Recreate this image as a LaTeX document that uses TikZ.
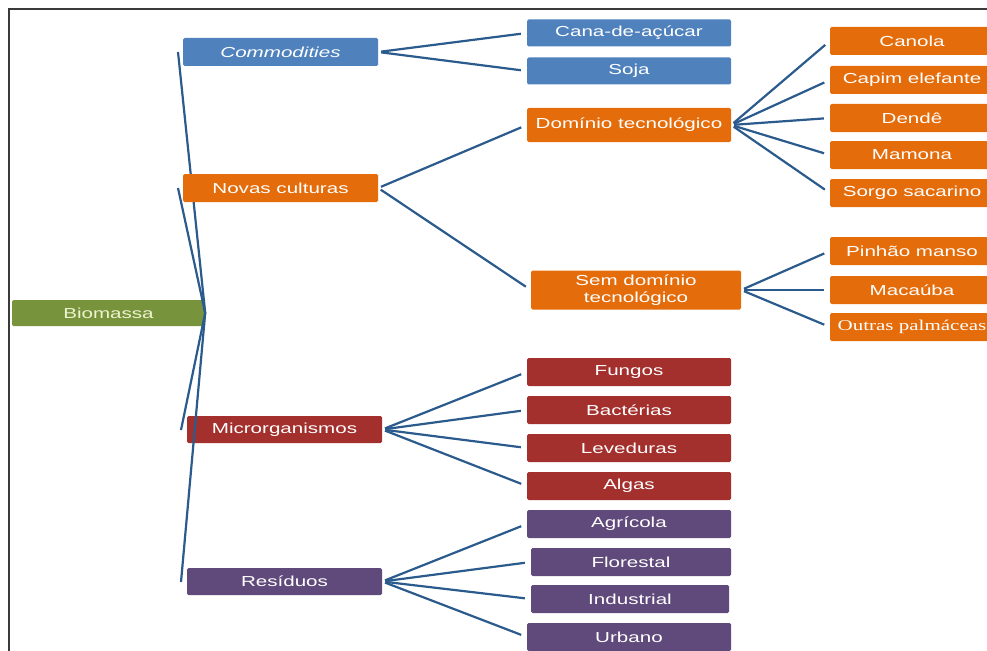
\documentclass[tikz,border=0pt]{standalone}
\usepackage{fontspec}
\setmainfont{Liberation Sans}[FakeStretch=1.42]
\newfontfamily\palmfont{Liberation Serif}[FakeStretch=1.4]
\usetikzlibrary{positioning}
\usetikzlibrary{calc}

\definecolor{bioGreen}{HTML}{77933C}
\definecolor{bioText}{HTML}{EEF3CF}
\definecolor{comBlue}{HTML}{4F81BD}
\definecolor{novOrange}{HTML}{E46C0A}
\definecolor{micRed}{HTML}{A3302D}
\definecolor{resPurple}{HTML}{604A7B}
\definecolor{linkBlue}{HTML}{2B5A8C}
\definecolor{frameGray}{HTML}{3A3A3A}

\begin{document}
\begin{tikzpicture}[x=1pt,y=-1pt,
		box/.style={rounded corners=1.5pt,text=white,inner sep=0pt,align=center,
			font=\fontsize{14.5}{17}\selectfont},
		lvlone/.style={box,minimum width=195pt,minimum height=28pt},
		lvltwo/.style={box,minimum width=204pt,minimum height=28pt},
		lvlthree/.style={box,fill=novOrange,minimum width=164pt,minimum height=28pt},
		link/.style={draw=linkBlue,line width=2.2pt},
		sublink/.style={link,shorten <=3pt,shorten >=6pt}]
			\useasboundingbox (0,0) rectangle (987,650);
			\clip (0,0) rectangle (987,650);
			
			% Frame of the figure
			\draw[frameGray,line width=2pt] (9,651) -- (9,9) -- (988,9);
			
			% Root
			\node[box,fill=bioGreen,text=bioText,minimum width=193pt,minimum height=26pt]
				(bio) at (108.5,313) {Biomassa};
			
			% Ends of the root connectors, just left of each branch
			\coordinate (comin) at (178,52);
			\coordinate (novin) at (178,188);
			\coordinate (micin) at (181,430);
			\coordinate (resin) at (181,582);
			
			% Branches (each connector before its box)
			\draw[link] (bio.east) -- (comin);
			\node[lvlone,fill=comBlue] (com) at (280.5,52) {\itshape Commodities};
			\draw[link] (bio.east) -- (novin);
			\node[lvlone,fill=novOrange] (nov) at (280.5,188) {Novas culturas};
			\draw[link] (bio.east) -- (micin);
			\node[lvlone,fill=micRed,minimum height=27pt] (mic) at (284.5,429.5) {Microrganismos};
			\draw[link] (bio.east) -- (resin);
			\node[lvlone,fill=resPurple,minimum height=27pt] (res) at (284.5,581.5) {Resíduos};
			
			% Second level
			\node[lvltwo,fill=comBlue,minimum height=27pt] (cana) at (629,33) {Cana-de-açúcar};
			\node[lvltwo,fill=comBlue,minimum height=27pt] (soja) at (629,71) {Soja};
			\node[lvltwo,fill=novOrange,minimum height=34pt] (dom) at (629,125) {Domínio tecnológico};
			\node[lvltwo,fill=novOrange,minimum width=210pt,minimum height=39pt]
				(semdom) at (636,290) {Sem domínio\\tecnológico};
			\node[lvltwo,fill=micRed] (fungos) at (629,372) {Fungos};
			\node[lvltwo,fill=micRed] (bacterias) at (629,410) {Bactérias};
			\node[lvltwo,fill=micRed] (leveduras) at (629,448) {Leveduras};
			\node[lvltwo,fill=micRed] (algas) at (629,486) {Algas};
			\node[lvltwo,fill=resPurple] (agricola) at (629,524) {Agrícola};
			\node[lvltwo,fill=resPurple,minimum width=200pt] (florestal) at (631,562) {Florestal};
			\node[lvltwo,fill=resPurple,minimum width=198pt] (industrial) at (630,599) {Industrial};
			\node[lvltwo,fill=resPurple] (urbano) at (629,637) {Urbano};
			
			% Third level
			\node[lvlthree] (canola) at (912,41) {Canola};
			\node[lvlthree] (capim) at (912,80) {Capim elefante};
			\node[lvlthree] (dende) at (912,118) {Dendê};
			\node[lvlthree] (mamona) at (912,155) {Mamona};
			\node[lvlthree] (sorgo) at (912,193) {Sorgo sacarino};
			\node[lvlthree] (pinhao) at (912,251) {Pinhão manso};
			\node[lvlthree] (macauba) at (912,290) {Macaúba};
			\node[lvlthree,font=\palmfont\fontsize{15}{17}\selectfont] (outras) at (912,327) {Outras palmáceas};
			
			% Connectors
			\foreach \kid in {cana,soja}
			\draw[sublink] (com.east) -- (\kid.west);
			\foreach \kid in {dom,semdom}
			\draw[sublink] (nov.east) -- (\kid.west);
			\foreach \kid in {canola,capim,dende,mamona,sorgo}
			\draw[sublink] (dom.east) -- (\kid.west);
			\foreach \kid in {pinhao,macauba,outras}
			\draw[sublink] (semdom.east) -- (\kid.west);
			\foreach \kid in {fungos,bacterias,leveduras,algas}
			\draw[sublink] (mic.east) -- (\kid.west);
			\foreach \kid in {agricola,florestal,industrial,urbano}
			\draw[sublink] (res.east) -- (\kid.west);
\end{tikzpicture}
\end{document}
